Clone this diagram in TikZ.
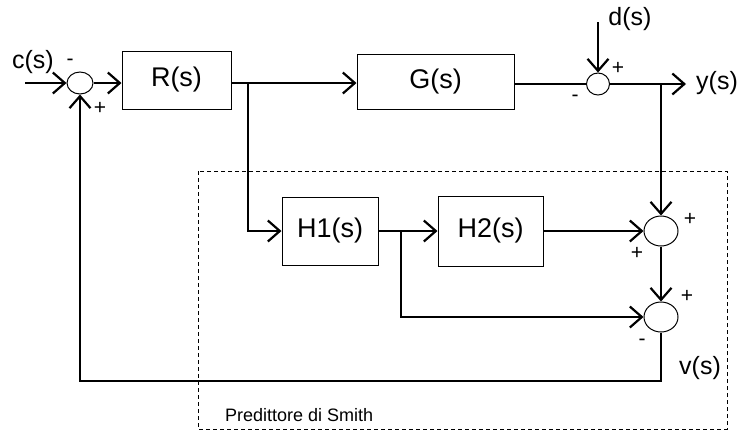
\documentclass[tikz,border=0pt]{standalone}
\usepackage{fontspec}
\setmainfont{Liberation Sans}
\usetikzlibrary{arrows.meta,shapes.geometric}
\begin{document}
\begin{tikzpicture}[x=1pt,y=-1pt,
 blk/.style={draw,line width=1pt,inner sep=0pt,font=\fontsize{27}{30}\selectfont},
 sumj/.style={draw,ellipse,line width=1pt,inner sep=0pt},
 sig/.style={line width=2.2pt},
 arr/.style={sig,-{Straight Barb[length=12pt,width=21pt]}},
 lbl/.style={font=\fontsize{25}{28}\selectfont,inner sep=0pt},
 sgn/.style={font=\fontsize{21}{23}\selectfont,inner sep=0pt}]
\useasboundingbox (0,0) rectangle (738,432);
% blocks
\node[blk,minimum width=109pt,minimum height=58pt] (R) at (176.5,80) {R(s)};
\node[blk,minimum width=157pt,minimum height=55pt] (G) at (435.5,82) {G(s)};
\node[blk,minimum width=96pt,minimum height=68pt] (H1) at (330,231) {H1(s)};
\node[blk,minimum width=105pt,minimum height=70pt] (H2) at (490.5,231) {H2(s)};
% summing junctions
\node[sumj,minimum width=26pt,minimum height=22pt] (s1) at (80,83) {};
\node[sumj,minimum width=23pt,minimum height=22pt] (s2) at (598,84) {};
\node[sumj,minimum width=34pt,minimum height=30pt] (s3) at (661,231) {};
\node[sumj,minimum width=34pt,minimum height=30pt] (s4) at (661,317) {};
% helper coordinates
\coordinate (cin) at (25,83);
\coordinate (b1) at (248,83);
\coordinate (din) at (598,22);
\coordinate (yout) at (686,84);
\coordinate (b2) at (661,84);
\coordinate (b3) at (401,231);
\coordinate (fb) at (661,381);
% connectors
\draw[arr] (cin) -- (s1);
\draw[arr] (s1.east) -- (s1.east -| R.west);
\draw[sig] (R.east |- b1) -- (b1);
\draw[arr] (b1) -- (b1 -| G.west);
\draw[arr] (b1) |- (H1.west);
\draw[sig] (G.east |- s2) -- (s2.west);
\draw[arr] (din) -- (s2);
\draw[arr] (s2.east) -- (yout);
\draw[arr] (b2) -- (s3);
\draw[arr] (H1) -- (H2);
\draw[arr] (H2.east) -- (s3.west);
\draw[arr] (b3) |- (s4);
\draw[arr] (s3) -- (s4);
\draw[arr] (s4.south) -- (fb) -| (s1.south);
% dashed predictor frame
\draw[line width=1pt,dash pattern=on 4pt off 3pt] (198,171) rectangle (727,429);
\node[font=\fontsize{18}{20}\selectfont,anchor=west,inner sep=0pt] (ps) at (225,415) {Predittore di Smith};
% labels
\node[lbl] (lc) at (33,62) {c(s)};
\node[sgn] (m1) at (70,62) {-};
\node[sgn] (p1) at (100,108) {+};
\node[lbl] (ld) at (630,19) {d(s)};
\node[sgn] (p2) at (618,68) {+};
\node[sgn] (m2) at (575,98) {-};
\node[lbl] (ly) at (717,83) {y(s)};
\node[sgn] (p3) at (690,219) {+};
\node[sgn] (p4) at (637,253) {+};
\node[sgn] (p5) at (687,296) {+};
\node[sgn] (m3) at (642,342) {-};
\node[lbl] (lv) at (700,368) {v(s)};
\end{tikzpicture}
\end{document}
